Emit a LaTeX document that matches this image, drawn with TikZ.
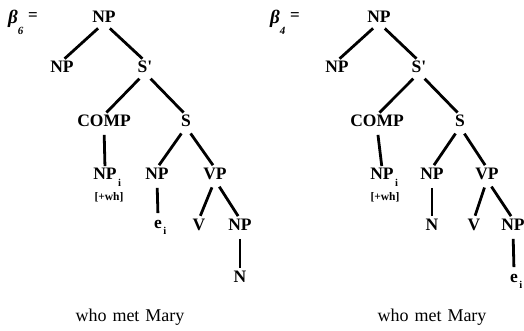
\documentclass[tikz,border=0pt]{standalone}
\usepackage{fontspec}
\setmainfont{Liberation Serif}
\newcommand\subi{\rlap{\kern1.5pt\raisebox{-6.5pt}{\fontsize{10.5}{10.5}\selectfont i}}}
\begin{document}
\begin{tikzpicture}[x=1pt,y=-1pt,
  lab/.style={font=\bfseries\fontsize{17.5}{17.5}\selectfont, inner sep=0pt, text height=11.5pt, text depth=0pt},
  feat/.style={font=\bfseries\fontsize{11.5}{11.5}\selectfont, inner sep=0pt},
  captxt/.style={font=\fontsize{18}{18}\selectfont, inner sep=0pt},
  greek/.style={font=\bfseries\itshape\fontsize{19}{19}\selectfont, inner sep=0pt},
  gsub/.style={font=\bfseries\itshape\fontsize{11}{11}\selectfont, inner sep=0pt},
  eqs/.style={font=\bfseries\fontsize{17}{17}\selectfont, inner sep=0pt},
  br/.style={line width=2.8pt, shorten <=8pt, shorten >=3.5pt},
  vt/.style={line width=2.8pt, shorten <=8pt, shorten >=2pt}]
\useasboundingbox (0,0) rectangle (524,331);
% ---------- left tree
\node[greek] (Lb) at (13,19) {β};
\node[gsub] (Lbs) at (20.5,31) {6};
\node[eqs] (Leq) at (33,17) {=};
\node[lab] (Lnp0) at (104,17) {NP};
\node[lab] (Lnp1) at (62,67) {NP};
\node[lab] (Lsb) at (145,67) {S\textquotesingle};
\node[lab] (Lcomp) at (104,121) {COMP};
\node[lab] (Ls) at (186,121) {S};
\node[lab] (Lnpi) at (105,174) {NP\subi};
\node[feat] (Lwh) at (109,197) {[+wh]};
\node[lab] (Lnp2) at (157,174) {NP};
\node[lab] (Lvp) at (215,174) {VP};
\node[lab] (Le) at (158,222.5) {e\subi};
\node[lab] (Lv) at (199,225) {V};
\node[lab] (Lnp3) at (240,225) {NP};
\node[lab] (Ln) at (240,277) {N};
\node[captxt] (Lcap) at (130,317) {who\hspace{6pt}met\hspace{6pt}Mary};
\draw[br] (Lnp0.south) -- (Lnp1.north);
\draw[br] (Lnp0.south) -- (Lsb.north);
\draw[br] (Lsb.south) -- (Lcomp.north);
\draw[br] (Lsb.south) -- (Ls.north);
\draw[vt] (Lcomp.south) -- (Lnpi.north);
\draw[br] (Ls.south) -- (Lnp2.north);
\draw[br] (Ls.south) -- (Lvp.north);
\draw[br] (Lnp2.south) -- (Le.north);
\draw[br] (Lvp.south) -- (Lv.north);
\draw[br] (Lvp.south) -- (Lnp3.north);
\draw[br] (Lnp3.south) -- (Ln.north);
% ---------- right tree
\node[greek] (Rb) at (275,19) {β};
\node[gsub] (Rbs) at (282.5,31) {4};
\node[eqs] (Req) at (295,17) {=};
\node[lab] (Rnp0) at (379,17) {NP};
\node[lab] (Rnp1) at (337,67) {NP};
\node[lab] (Rsb) at (419,67) {S\textquotesingle};
\node[lab] (Rcomp) at (377,121) {COMP};
\node[lab] (Rs) at (460,121) {S};
\node[lab] (Rnpi) at (382,174) {NP\subi};
\node[feat] (Rwh) at (385,197) {[+wh]};
\node[lab] (Rnp2) at (432,174) {NP};
\node[lab] (Rvp) at (487,174) {VP};
\node[lab] (Rn) at (432,225) {N};
\node[lab] (Rv) at (474,225) {V};
\node[lab] (Rnp3) at (513,225) {NP};
\node[lab] (Re) at (514,276.5) {e\subi};
\node[captxt] (Rcap) at (432,317) {who\hspace{6pt}met\hspace{6pt}Mary};
\draw[br] (Rnp0.south) -- (Rnp1.north);
\draw[br] (Rnp0.south) -- (Rsb.north);
\draw[br] (Rsb.south) -- (Rcomp.north);
\draw[br] (Rsb.south) -- (Rs.north);
\draw[vt] (Rcomp.south) -- (Rnpi.north);
\draw[br] (Rs.south) -- (Rnp2.north);
\draw[br] (Rs.south) -- (Rvp.north);
\draw[br] (Rnp2.south) -- (Rn.north);
\draw[br] (Rvp.south) -- (Rv.north);
\draw[br] (Rvp.south) -- (Rnp3.north);
\draw[br] (Rnp3.south) -- (Re.north);
\end{tikzpicture}
\end{document}
